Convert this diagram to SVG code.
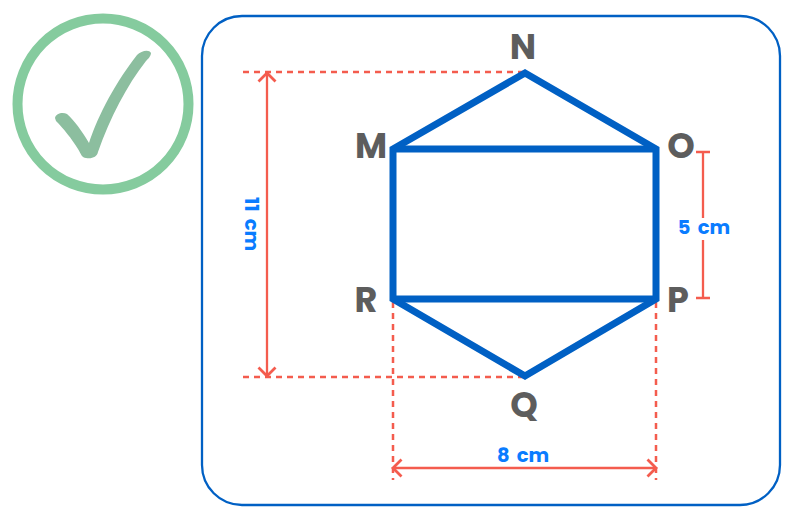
<svg xmlns="http://www.w3.org/2000/svg" width="802" height="520" viewBox="0 0 802 520">
<style>
.dash{fill:none;stroke:#f45c4e;stroke-width:2.500;stroke-dasharray:6 5}
.dim{fill:none;stroke:#f45c4e;stroke-width:2.300}
.shape{fill:none;stroke:#0060c4;stroke-width:7;stroke-linejoin:miter}
.lab{font-family:Poppins,"Inter","Liberation Sans",sans-serif;font-weight:700;font-size:35px;fill:#5d5d5d;text-anchor:middle}
.val{font-family:Poppins,"Inter","Liberation Sans",sans-serif;font-weight:700;font-size:19.500px;word-spacing:3px;fill:#0a7cff;text-anchor:middle}
</style>
<defs>
<marker id="arr" viewBox="-10 -10 20 20" markerWidth="20" markerHeight="20" markerUnits="userSpaceOnUse" orient="auto-start-reverse" refX="0" refY="0"><path d="M-8.500,-8.500L0,0L-8.500,8.500" fill="none" stroke="#f45c4e" stroke-width="2.800"/></marker>
</defs>
<rect id="panel" x="202" y="16" width="578" height="489" rx="40" fill="#fff" stroke="#0060c4" stroke-width="2.300"/>
<g id="check-badge">
<circle cx="103" cy="104" r="85.500" fill="none" stroke="#85cb9e" stroke-width="10"/>
<path d="M55,118C56,113 63,112 67,114C74,120 82,131 89,143C96,122 110,90 137,55C141,51 149,49 151,53C151,56 148,59 146,61C127,85 110,118 98,152C97,157 92,159 86,158C82,158 81,154 78,149C72,139 63,128 56,121Z" fill="#8cbe9f"/>
</g>
<g id="connectors">
<path class="dash" d="M243,72H525"/>
<path class="dash" d="M243,377H525"/>
<path class="dash" d="M393,302V480"/>
<path class="dash" d="M656,302V480"/>
<path class="dim" d="M267,73V376" marker-start="url(#arr)" marker-end="url(#arr)"/>
<path class="dim" d="M393,468H656" marker-start="url(#arr)" marker-end="url(#arr)"/>
<path class="dim" d="M703,152V218M703,240V298M696,152H710M696,298H710"/>
</g>
<g id="figure">
<path class="shape" d="M393,149L525,73L656,149V299L525,376L393,299Z"/>
<path class="shape" d="M393,149H656M393,299H656"/>
</g>
<g id="node-N"><text class="lab" x="523" y="59">N</text></g>
<g id="node-M"><text class="lab" x="371" y="158">M</text></g>
<g id="node-O"><text class="lab" x="681" y="158">O</text></g>
<g id="node-R"><text class="lab" x="366" y="312">R</text></g>
<g id="node-P"><text class="lab" x="678" y="312">P</text></g>
<g id="node-Q"><text class="lab" x="524" y="417">Q</text></g>
<g id="label-11"><text class="val" transform="translate(245,224) rotate(90)">11 cm</text></g>
<g id="label-5"><text class="val" x="704" y="234">5 cm</text></g>
<g id="label-8"><text class="val" x="523" y="462">8 cm</text></g>
</svg>
